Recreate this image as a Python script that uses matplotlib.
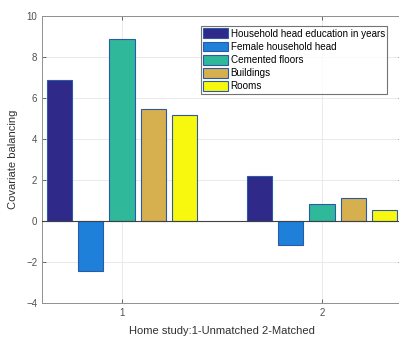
import matplotlib
matplotlib.use("Agg")
import matplotlib.pyplot as plt
import numpy as np
from matplotlib.patches import Patch

plt.rcParams['font.family'] = ['Liberation Sans', 'DejaVu Sans']

groups = [1, 2]
series = ["Household head education in years", "Female household head",
          "Cemented floors", "Buildings", "Rooms"]
values = {
    "Household head education in years": [6.9, 2.2],
    "Female household head": [-2.42, -1.15],
    "Cemented floors": [8.9, 0.84],
    "Buildings": [5.48, 1.1],
    "Rooms": [5.17, 0.56],
}
colors = ["#2f2a8a", "#1f80da", "#2fb89a", "#d6b04e", "#f8f80e"]
yticks = [-4, -2, 0, 2, 4, 6, 8, 10]

fig = plt.figure(figsize=(3.99, 3.38), dpi=100)
ax = fig.add_axes([42/399, 35/338, 360/399, 287/338])

n = len(series)
step = 0.157
width = 0.8 * step
x = np.array(groups, dtype=float)
for i, s in enumerate(series):
    off = (i - (n - 1) / 2) * step
    ax.bar(x + off, values[s], width=width, color=colors[i],
           edgecolor="#2a5aa8", linewidth=0.8, zorder=3, label=s)

ax.axhline(0, color="#404040", linewidth=0.8, zorder=4)
ax.set_xlim(0.6, 2.4)
ax.set_ylim(-4, 10)
ax.set_xticks(groups)
ax.set_yticks(yticks)
ax.grid(True, color="#e6e6e6", linewidth=0.6, zorder=0)
ax.tick_params(direction="in", length=3, width=0.6, labelsize=7,
               colors="#505050", top=True, right=True)
for sp in ax.spines.values():
    sp.set_color("#909090")
    sp.set_linewidth(0.7)
ax.set_ylabel("Covariate balancing", fontsize=8, color="#303030", labelpad=6)
ax.set_xlabel("Home study:1-Unmatched 2-Matched", fontsize=8, color="#303030", labelpad=6)

handles = [Patch(facecolor=c, edgecolor="#2a5aa8", linewidth=0.8) for c in colors]
leg = ax.legend(handles, series, loc="upper left",
                bbox_to_anchor=((201 - 42) / 360, 1 - (26 - 16) / 287),
                bbox_transform=ax.transAxes,
                fontsize=7.1, frameon=True, fancybox=False, borderpad=0.25,
                labelspacing=0.3, handlelength=2.5, handleheight=1.15,
                handletextpad=0.25, borderaxespad=0.0)
leg.get_frame().set_edgecolor("#505050")
leg.get_frame().set_linewidth(0.8)

fig.savefig("out.png", dpi=100)
